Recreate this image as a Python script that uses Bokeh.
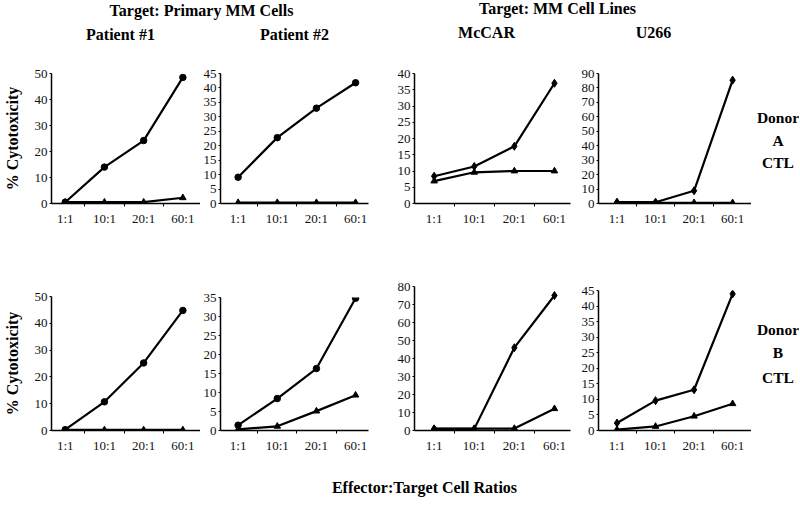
from bokeh.plotting import figure
from bokeh.layouts import column, row
from bokeh.models import Range1d, FixedTicker
from bokeh.core.properties import value
from bokeh.embed import file_html
from bokeh.resources import INLINE

# ---------------- data ----------------
ratios = ["1:1", "10:1", "20:1", "60:1"]

# Donor A CTL (top row)
a_pat1_high = [0.5, 14.0, 24.2, 48.5]
a_pat1_low = [0.5, 0.5, 0.5, 2.2]
a_pat2_high = [9.1, 22.8, 33.0, 41.8]
a_pat2_low = [0.3, 0.3, 0.3, 0.3]
a_mccar_high = [8.4, 11.4, 17.6, 37.0]
a_mccar_low = [6.9, 9.6, 10.0, 10.0]
a_u266_high = [0.9, 0.9, 8.8, 85.4]
a_u266_low = [0.5, 0.5, 0.5, 0.5]

# Donor B CTL (bottom row)
b_pat1_high = [0.3, 10.7, 25.2, 44.8]
b_pat1_low = [0.2, 0.2, 0.2, 0.2]
b_pat2_high = [1.4, 8.4, 16.3, 34.8]
b_pat2_low = [0.3, 1.1, 5.1, 9.3]
b_mccar_high = [0.9, 0.9, 46.0, 75.0]
b_mccar_low = [1.0, 1.0, 1.1, 12.1]
b_u266_high = [2.4, 9.6, 13.1, 43.9]
b_u266_low = [0.3, 1.3, 4.6, 8.6]

# y-axis extents / tick steps
a_ymax = [50, 45, 40, 90]
a_ystep = [10, 5, 5, 10]
b_ymax = [50, 35, 80, 45]
b_ystep = [10, 5, 10, 5]

donor_a_text = ["Donor", "A", "CTL"]
donor_b_text = ["Donor", "B", "CTL"]

SERIF = "Liberation Serif"
xpos = list(range(1, len(ratios) + 1))


def panel(high, low, ymax, ystep, xr, width, bl, br, bt, bb, height,
          high_marker, ylabel=None):
    p = figure(width=width, height=height, x_range=Range1d(*xr),
               y_range=Range1d(0, ymax), output_backend="svg",
               toolbar_location=None, title=None,
               min_border_left=bl, min_border_right=br,
               min_border_top=bt, min_border_bottom=bb)
    p.outline_line_color = None
    p.xgrid.visible = False
    p.ygrid.visible = False
    p.background_fill_color = "white"
    p.border_fill_color = "white"

    p.line(xpos, high, line_color="black", line_width=2.2)
    p.line(xpos, low, line_color="black", line_width=2.2)
    p.scatter(xpos, high, marker=high_marker,
              size=8 if high_marker == "diamond" else 6.5,
              fill_color="black", line_color="black")
    p.scatter(xpos, low, marker="triangle", size=6.5,
              fill_color="black", line_color="black")

    xa = p.xaxis[0]
    xa.ticker = FixedTicker(ticks=xpos, minor_ticks=[1.5, 2.5, 3.5])
    xa.major_label_overrides = {i: r for i, r in zip(xpos, ratios)}
    xa.major_tick_line_color = None
    xa.major_tick_in = 0
    xa.major_tick_out = 0
    xa.minor_tick_in = 0
    xa.minor_tick_out = 3
    xa.minor_tick_line_color = "black"
    xa.axis_line_width = 1.5
    xa.axis_line_color = "black"
    xa.major_label_text_font = SERIF
    xa.major_label_text_font_size = "13px"
    xa.major_label_text_color = "#111111"
    xa.major_label_standoff = 4

    ya = p.yaxis[0]
    ya.ticker = FixedTicker(ticks=list(range(0, ymax + 1, ystep)))
    ya.minor_tick_line_color = None
    ya.major_tick_in = 0
    ya.major_tick_out = 2
    ya.major_tick_line_color = "black"
    ya.axis_line_width = 1.5
    ya.axis_line_color = "black"
    ya.major_label_text_font = SERIF
    ya.major_label_text_font_size = "13px"
    ya.major_label_text_color = "#111111"
    ya.major_label_standoff = 2
    if ylabel:
        ya.axis_label = ylabel
        ya.axis_label_text_font = SERIF
        ya.axis_label_text_font_style = "bold"
        ya.axis_label_text_font_size = "16px"
        ya.axis_label_text_color = "black"
        ya.axis_label_standoff = 11
    return p


def text_fig(width, height, xr, yr, xs, ys, texts, size="16px",
             bt=0, bb=0):
    p = figure(width=width, height=height, x_range=Range1d(*xr),
               y_range=Range1d(*yr), output_backend="svg",
               x_axis_type=None, y_axis_type=None,
               toolbar_location=None, title=None,
               min_border=0, min_border_left=0, min_border_right=0,
               min_border_top=bt, min_border_bottom=bb)
    p.grid.visible = False
    p.outline_line_color = None
    p.text(x=xs, y=ys, text=texts, text_font=value(SERIF),
           text_font_style="bold", text_font_size=size,
           text_align="center", text_baseline="middle", text_color="black")
    return p


# column geometry (widths, left/right borders, x ranges)
col_w = [200, 180, 198, 173]
col_bl = [48, 18, 34, 19]
col_br = [0, 12, 8, 0]
col_xr = [(0.65, 4.45), (0.55, 4.33), (0.51, 4.40), (0.52, 4.49)]
markers = ["circle", "circle", "diamond", "diamond"]

a_high = [a_pat1_high, a_pat2_high, a_mccar_high, a_u266_high]
a_low = [a_pat1_low, a_pat2_low, a_mccar_low, a_u266_low]
b_high = [b_pat1_high, b_pat2_high, b_mccar_high, b_u266_high]
b_low = [b_pat1_low, b_pat2_low, b_mccar_low, b_u266_low]

row1_h = 200
row2_h = 207
b_top = [33, 34, 23, 27]

top_figs = []
bot_figs = []
for i in range(4):
    top_figs.append(panel(a_high[i], a_low[i], a_ymax[i], a_ystep[i],
                          col_xr[i], col_w[i], col_bl[i], col_br[i],
                          10, 60, row1_h, markers[i],
                          "% Cytotoxicity" if i == 0 else None))
    bot_figs.append(panel(b_high[i], b_low[i], b_ymax[i], b_ystep[i],
                          col_xr[i], col_w[i], col_bl[i], col_br[i],
                          b_top[i], 40, row2_h, markers[i],
                          "% Cytotoxicity" if i == 0 else None))

# side labels: frame matches the U266 panel frame (pixel coordinates)
donor_a = text_fig(48, row1_h, (751, 799), (203, 73),
                   [777.5] * 3, [117, 140, 162], donor_a_text,
                   size="15.5px", bt=10, bb=60)
donor_b = text_fig(48, row2_h, (751, 799), (430, 290),
                   [777.5] * 3, [329, 352, 377], donor_b_text,
                   size="15.5px", bt=27, bb=40)

header = text_fig(799, 63, (0, 799), (63, 0),
                  [203, 120, 294, 559, 486, 653],
                  [10, 34, 34, 8, 32, 32],
                  ["Target:  Primary MM Cells", "Patient #1", "Patient #2",
                   "Target:  MM Cell Lines", "McCAR", "U266"])
footer = text_fig(799, 34, (0, 799), (504, 470),
                  [424], [487], ["Effector:Target Cell Ratios"])

# each plot wrapped in its own column so that frames keep their own borders
layout = column(header,
                row(*[column(f) for f in top_figs], column(donor_a)),
                row(*[column(f) for f in bot_figs], column(donor_b)),
                footer)

open("out.html", "w").write(file_html(layout, INLINE))
